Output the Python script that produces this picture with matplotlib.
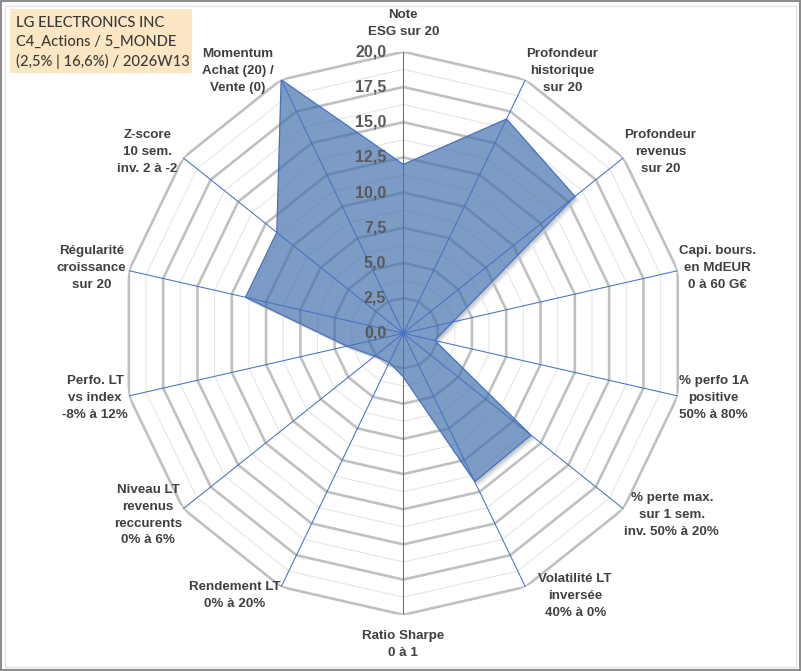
import numpy as np
import matplotlib
matplotlib.use("Agg")
import matplotlib.pyplot as plt
from matplotlib import transforms
from matplotlib.patches import Rectangle

# ---------------- data ----------------
categories = [
    "Note\nESG sur 20",
    "Profondeur\nhistorique\nsur 20",
    "Profondeur\nrevenus\nsur 20",
    "Capi. bours.\nen MdEUR\n0 à 60 G€",
    "% perfo 1A\npositive\n50% à 80%",
    "% perte max.\nsur 1 sem.\ninv. 50% à 20%",
    "Volatilité LT\ninversée\n40% à 0%",
    "Ratio Sharpe\n0 à 1",
    "Rendement LT\n0% à 20%",
    "Niveau LT\nrevenus\nreccurents\n0% à 6%",
    "Perfo. LT\nvs index\n-8% à 12%",
    "Régularité\ncroissance\nsur 20",
    "Z-score\n10 sem.\ninv. 2 à -2",
    "Momentum\nAchat (20) /\nVente (0)",
]
values = [12.0, 16.9, 15.6, 3.6, 2.3, 11.6, 11.7, 3.1, 2.3, 2.6, 4.1, 11.5, 11.5, 20.0]
major_ticks = [0.0, 2.5, 5.0, 7.5, 10.0, 12.5, 15.0, 17.5, 20.0]
minor_ticks = [1.25, 3.75, 6.25, 8.75, 11.25, 13.75, 16.25, 18.75]
tick_labels = ["0,0", "2,5", "5,0", "7,5", "10,0", "12,5", "15,0", "17,5", "20,0"]
title_lines = ["LG ELECTRONICS INC", "C4_Actions / 5_MONDE", "(2,5% | 16,6%) / 2026W13"]

# ---------------- figure ----------------
W, H = 801, 671
fig = plt.figure(figsize=(W / 100, H / 100), dpi=100)
fig.patch.set_facecolor("white")

cx, cy, R = 403.3, 333.3, 281.5
ax = fig.add_axes([(cx - R) / W, 1 - (cy + R) / H, 2 * R / W, 2 * R / H], projection="polar")
ax.set_theta_zero_location("N")
ax.set_theta_direction(-1)
ax.set_ylim(0, 20)
ax.axis("off")

n = len(categories)
theta = np.arange(n) * 2 * np.pi / n
theta_c = np.append(theta, theta[0])
vals_c = np.append(values, values[0])

# soft shadow of the data polygon, masked inside by white
for k, a in [(5, 0.05), (4, 0.07), (3, 0.09), (2, 0.10)]:
    tr = transforms.offset_copy(ax.transData, fig=fig, x=k * 0.9, y=-k * 0.9, units="dots")
    ax.fill(theta_c, vals_c, color="#404040", alpha=a, lw=0, zorder=0.5, transform=tr)
ax.fill(theta_c, vals_c, color="white", lw=0, zorder=0.6)

# grid rings (polygonal)
for r in minor_ticks:
    ax.plot(theta_c, [r] * (n + 1), color="#E6E6E6", lw=0.8, zorder=1)
for r in major_ticks[1:]:
    ax.plot(theta_c, [r] * (n + 1), color="#C0C0C0", lw=1.9, zorder=1.2,
            solid_joinstyle="miter")

# data polygon
ax.fill(theta_c, vals_c, color="#3F6EAA", alpha=0.68, lw=0, zorder=2)
ax.plot(theta_c, vals_c, color="#4472C4", lw=0.9, zorder=3)

# spokes
for t in theta:
    ax.plot([t, t], [0, 20], color="#4472C4", lw=0.75, zorder=4)

# radial tick labels
for r, lab in zip(major_ticks, tick_labels):
    ax.annotate(lab, xy=(0, r), xytext=(-17, 0), textcoords="offset pixels",
                ha="right", va="center", fontsize=11.5, fontweight="bold",
                color="#595959", family="Liberation Sans", zorder=6)

# category labels
for t, lab in zip(theta, categories):
    s, c = np.sin(t), np.cos(t)
    if abs(s) < 0.1:
        ha = "center"
        if c > 0:
            va, dx, dy = "bottom", 0, 14
        else:
            va, dx, dy = "top", 0, -15
    else:
        va = "center"
        dy = 10 * c
        if s > 0:
            ha = "left"
            dx = 1 + 12 * max(0.0, -c - 0.7) / 0.2
        else:
            ha = "right"
            dx = -(1 + 7 * max(0.0, c))
    ax.annotate(lab, xy=(t, 20), xytext=(dx, dy), textcoords="offset pixels",
                ha=ha, va=va, multialignment="center", fontsize=9.6,
                fontweight="bold", color="#404040", family="Liberation Sans",
                linespacing=1.55, annotation_clip=False, zorder=6)

# title box
fig.patches.append(Rectangle((10 / W, 1 - 73 / H), 182 / W, 64 / H,
                             transform=fig.transFigure, facecolor="#FDE6C3",
                             edgecolor="none", zorder=0))
fig.text(16 / W, 1 - 42.5 / H, "\n".join(title_lines), ha="left", va="center",
         fontsize=10.6, color="#3A3A3A", family="Lato", fontweight="medium",
         linespacing=1.44)

# borders
fig.patches.append(Rectangle((4.5 / W, 4.5 / H), (W - 10) / W, (H - 10) / H,
                             transform=fig.transFigure, facecolor="none",
                             edgecolor="#E3E3E3", lw=1.0))
fig.patches.append(Rectangle((0.8 / W, 0.8 / H), (W - 2.2) / W, (H - 2.2) / H,
                             transform=fig.transFigure, facecolor="none",
                             edgecolor="#8C8C8C", lw=1.5))

fig.savefig("out.png", dpi=100)
